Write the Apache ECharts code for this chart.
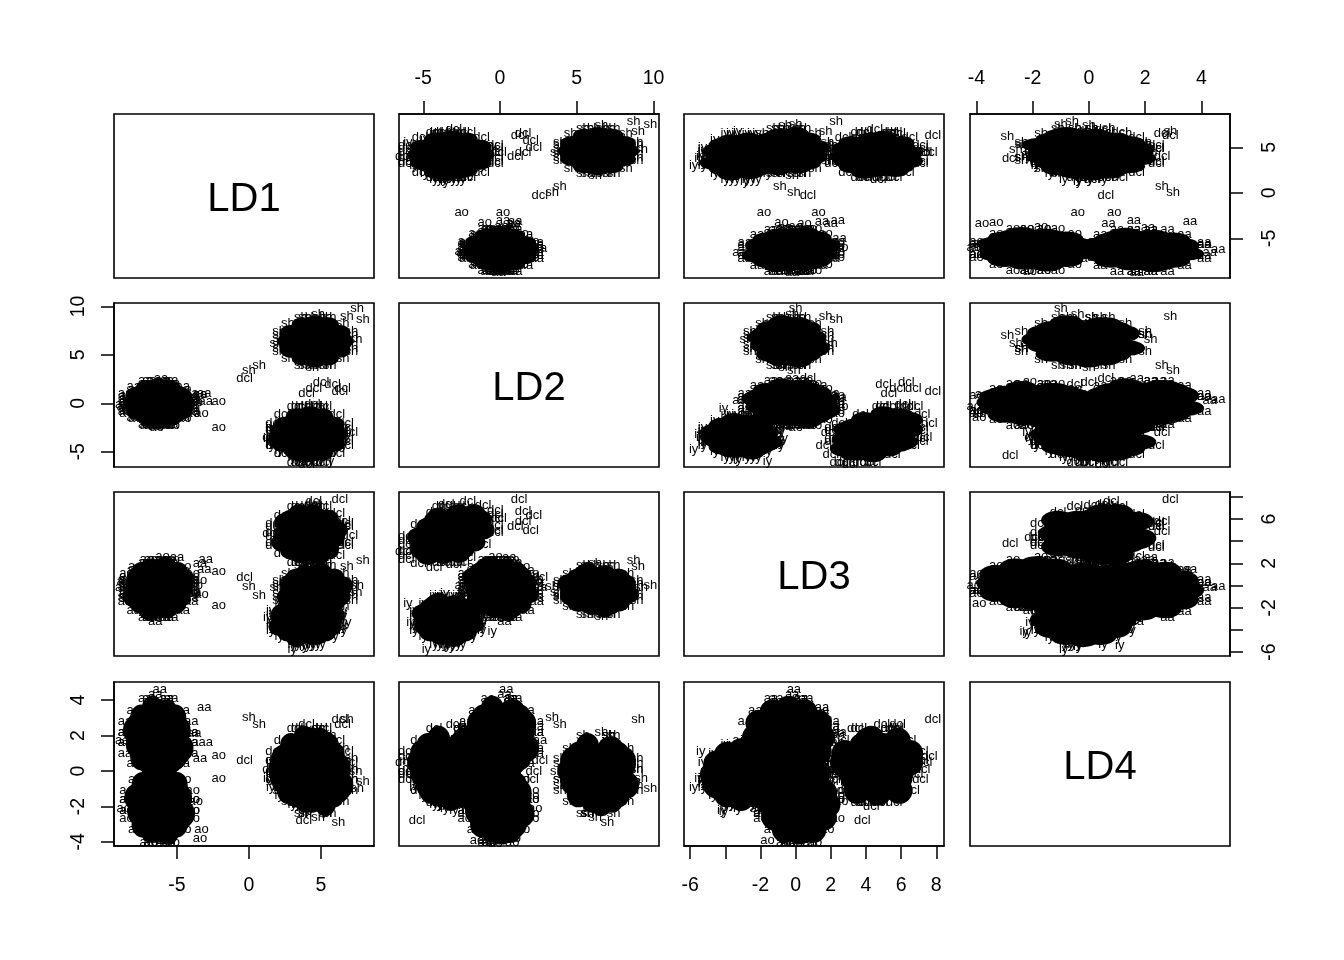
<!DOCTYPE html>
<html><head><meta charset="utf-8">
<style>html,body{margin:0;padding:0;background:#fff}#c{width:1344px;height:960px}</style>
<script src="https://cdn.jsdelivr.net/npm/echarts@6/dist/echarts.min.js"></script>
</head><body><div id="c"></div>
<script>
const varNames = ['LD1','LD2','LD3','LD4'];
const phones = ['aa','ao','dcl','iy','sh'];
const denseCount = 47;

const aaLD1 = [-4.6,-4.8,-5.5,-6.3,-7.1,-7.8,-8.0,-7.8,-7.1,-6.3,-5.5,-4.8,
-5.9,-6.9,-5.7,-6.7,-6.1,-5.7,-6.9,-5.9,-6.9,-5.7,-6.5,-6.1,
-5.1,-5.1,-7.5,-7.5,-5.1,-5.1,-7.5,-7.5,-6.1,-6.5,-6.1,-6.5,-5.9,-6.7,-5.9,-6.7,
-5.4,-7.2,-5.4,-7.2,-6.3,-5.8,-6.5,
-3.8,-8.8,-6.1,-6.5,-6.1,-6.5,-6.5,-6.1,
-4.6,-4.6,-8.0,-8.0,-4.6,-4.6,-8.0,-8.0,-4.6,-4.6,-8.0,-8.0,-6.1,-6.5,-6.1,-6.5,-6.5,-6.1,-6.5,-6.1,-6.1,-6.5,-6.5,-6.1,
-6.2,-6.5,-3.4,-3.0,-5.0,-3.1,
-4.0,-4.0,-8.6,-8.6,-5.4,-5.4,-7.2,-7.2,-4.0,-4.0,-8.6,-8.6,-5.4,-5.4,-7.2,-7.2,-4.0,-4.0,-8.6,-8.6,-5.4,-5.4,-7.2,-7.2,
-6.0,-6.6,-6.6,-6.0,-6.0,-6.6,-6.6,-6.0,-6.9,-5.7,-5.7,-6.9,-5.7,-6.9,-5.7,-6.9,-5.7,-6.9,-6.9,-5.7,-5.7,-6.9,-6.9,-5.7];
const aaLD2 = [.1,.9,1.6,1.8,1.6,.9,.1,-.7,-1.4,-1.6,-1.4,-.7,
-.5,.5,.7,-.5,.9,-.3,.5,.7,-.3,.3,.9,-.7,
.3,-.1,.3,-.1,.5,-.3,.5,-.3,1.3,1.3,-1.1,-1.1,1.3,1.3,-1.1,-1.1,
.8,.8,-.6,-.6,.1,.3,-.3,
.3,-.1,2.6,-2.4,-.1,.3,.3,-.1,
1.7,-1.5,1.7,-1.5,.3,-.1,-.1,.3,-.1,.3,.3,-.1,1.8,1.8,-1.6,-1.6,1.8,1.8,-1.6,-1.6,-.1,.3,-.1,.3,
.4,-.5,.9,.2,.6,1.0,
1.0,-.8,1.0,-.8,2.4,-2.2,2.4,-2.2,.4,-.2,-.2,.4,.4,-.2,-.2,.4,-.5,.7,.7,-.5,.7,-.5,.7,-.5,
2.4,2.4,-2.2,-2.2,1.0,1.0,-.8,-.8,2.4,2.4,-2.2,-2.2,1.0,1.0,-.8,-.8,-.5,.7,.7,-.5,.7,-.5,.7,-.5];
const aaLD3 = [0,-1.1,.3,-.8,-.2,.3,-1.1,0,-1.1,.3,-.6,-.2,
1.5,1.3,.5,-.4,-1.3,-2.1,-2.3,-2.1,-1.3,-.4,.5,1.3,
.9,-1.7,.9,-1.7,-.2,-.6,-.6,-.2,.9,-1.7,.9,-1.7,-.2,-.6,-.6,-.2,
-1.3,.5,.6,-1.4,-.4,-.6,0,
-.6,-.2,-.2,-.6,2.4,-3.2,-.2,-.6,
-.2,-.6,-.6,-.2,1.4,-2.2,1.4,-2.2,-.2,-.6,-.2,-.6,1.4,-2.2,1.4,-2.2,-.2,-.6,-.2,-.6,1.5,1.5,-2.3,-2.3,
-.1,1.3,2.0,2.4,2.5,1.5,
-.1,-.7,-.7,-.1,-.1,-.7,-.7,-.1,.6,-1.4,.6,-1.4,2.1,-2.9,2.1,-2.9,-1.1,.3,.3,-1.1,.3,-1.1,.3,-1.1,
.6,-1.4,.6,-1.4,2.1,-2.9,2.1,-2.9,.3,-1.1,-1.1,.3,.3,-1.1,-1.1,.3,2.1,2.1,-2.9,-2.9,.6,.6,-1.4,-1.4];
const aaLD4 = [1.3,2.3,2.5,1.3,2.7,1.5,2.3,2.5,1.5,2.1,2.7,1.1,
1.9,2.7,3.3,3.5,3.3,2.7,1.9,1.1,.5,.3,.5,1.1,
1.7,2.1,2.1,1.7,3.0,.8,3.0,.8,2.1,1.7,1.7,2.1,3.0,.8,3.0,.8,
2.7,1.1,2.6,1.2,1.9,1.7,2.3,
2.1,1.7,1.7,2.1,2.1,1.7,4.3,-.5,
1.7,2.1,2.1,1.7,1.7,2.1,1.7,2.1,3.4,.4,3.4,.4,1.7,2.1,2.1,1.7,3.4,.4,3.4,.4,3.4,.4,3.4,.4,
4.6,3.3,.7,1.6,2.2,3.6,
1.6,2.2,2.2,1.6,2.2,1.6,2.2,1.6,1.6,2.2,2.2,1.6,2.2,1.6,2.2,1.6,2.8,1.0,2.8,1.0,4.1,-.3,4.1,-.3,
1.3,2.5,2.5,1.3,2.5,1.3,2.5,1.3,2.8,1.0,2.8,1.0,4.1,-.3,4.1,-.3,2.8,1.0,2.8,1.0,4.1,-.3,4.1,-.3];

const aoLD1 = [-4.5,-4.7,-5.4,-6.2,-7.0,-7.7,-7.9,-7.7,-7.0,-6.2,-5.4,-4.7,
-5.8,-6.8,-5.6,-6.6,-6.0,-5.6,-6.8,-5.8,-6.8,-5.6,-6.4,-6.0,
-5.0,-5.0,-7.4,-7.4,-5.0,-5.0,-7.4,-7.4,-6.0,-6.4,-6.0,-6.4,-5.8,-6.6,-5.8,-6.6,
-5.3,-7.1,-5.3,-7.1,-6.2,-5.7,-6.4,
-3.7,-8.7,-6.0,-6.4,-6.0,-6.4,-6.4,-6.0,
-4.5,-4.5,-7.9,-7.9,-4.5,-4.5,-7.9,-7.9,-4.5,-4.5,-7.9,-7.9,-6.0,-6.4,-6.0,-6.4,-6.4,-6.0,-6.4,-6.0,-6.0,-6.4,-6.4,-6.0,
-2.1,-2.1,-3.4,-3.3,-6.0,-5.6,
-3.9,-3.9,-8.5,-8.5,-5.3,-5.3,-7.1,-7.1,-3.9,-3.9,-8.5,-8.5,-5.3,-5.3,-7.1,-7.1,-3.9,-3.9,-8.5,-8.5,-5.3,-5.3,-7.1,-7.1,
-5.9,-6.5,-6.5,-5.9,-5.9,-6.5,-6.5,-5.9,-6.8,-5.6,-5.6,-6.8,-5.6,-6.8,-5.6,-6.8,-5.6,-6.8,-6.8,-5.6,-5.6,-6.8,-6.8,-5.6];
const aoLD2 = [-.1,.7,1.3,1.5,1.3,.7,-.1,-.9,-1.5,-1.7,-1.5,-.9,
-.7,.3,.5,-.7,.7,-.5,.3,.5,-.5,.1,.7,-.9,
.1,-.3,.1,-.3,.3,-.5,.3,-.5,1.0,1.0,-1.2,-1.2,1.0,1.0,-1.2,-1.2,
.6,.6,-.8,-.8,-.1,.1,-.5,
.1,-.3,2.3,-2.5,-.3,.1,.1,-.3,
1.4,-1.6,1.4,-1.6,.1,-.3,-.3,.1,-.3,.1,.1,-.3,1.5,1.5,-1.7,-1.7,1.5,1.5,-1.7,-1.7,-.3,.1,-.3,.1,
.2,-2.5,.9,-1.0,-1.5,-1.0,
.8,-1.0,.8,-1.0,2.1,-2.3,2.1,-2.3,.2,-.4,-.4,.2,.2,-.4,-.4,.2,-.7,.5,.5,-.7,.5,-.7,.5,-.7,
2.1,2.1,-2.3,-2.3,.8,.8,-1.0,-1.0,2.1,2.1,-2.3,-2.3,.8,.8,-1.0,-1.0,-.7,.5,.5,-.7,.5,-.7,.5,-.7];
const aoLD3 = [.6,-.4,.8,-.2,.4,.8,-.4,.6,-.4,.8,0,.4,
1.8,1.6,1.0,.2,-.6,-1.2,-1.4,-1.2,-.6,.2,1.0,1.6,
1.3,-.9,1.3,-.9,.4,0,0,.4,1.3,-.9,1.3,-.9,.4,0,0,.4,
-.6,1.0,1.1,-.7,.2,0,.6,
0,.4,.4,0,2.6,-2.2,.4,0,
.4,0,0,.4,1.7,-1.3,1.7,-1.3,.4,0,.4,0,1.7,-1.3,1.7,-1.3,.4,0,.4,0,1.8,1.8,-1.4,-1.4,
1.3,-1.8,.5,-.8,-1.6,-.4,
.5,-.1,-.1,.5,.5,-.1,-.1,.5,1.1,-.7,1.1,-.7,2.4,-2.0,2.4,-2.0,-.4,.8,.8,-.4,.8,-.4,.8,-.4,
1.1,-.7,1.1,-.7,2.4,-2.0,2.4,-2.0,.8,-.4,-.4,.8,.8,-.4,-.4,.8,2.4,2.4,-2.0,-2.0,1.1,1.1,-.7,-.7];
const aoLD4 = [-2.4,-1.5,-1.4,-2.4,-1.2,-2.3,-1.5,-1.4,-2.3,-1.7,-1.2,-2.6,
-1.9,-1.2,-.5,-.4,-.5,-1.2,-1.9,-2.6,-3.3,-3.4,-3.3,-2.6,
-2.1,-1.7,-1.7,-2.1,-.8,-3.0,-.8,-3.0,-1.7,-2.1,-2.1,-1.7,-.8,-3.0,-.8,-3.0,
-1.2,-2.6,-1.3,-2.5,-1.9,-2.1,-1.5,
-1.7,-2.1,-2.1,-1.7,-1.7,-2.1,.4,-4.1,
-2.1,-1.7,-1.7,-2.1,-2.1,-1.7,-2.1,-1.7,-.5,-3.3,-.5,-3.3,-2.1,-1.7,-1.7,-2.1,-.5,-3.3,-.5,-3.3,-.5,-3.3,-.5,-3.3,
.9,-.4,-3.8,-3.3,-3.9,-3.9,
-2.2,-1.6,-1.6,-2.2,-1.6,-2.2,-1.6,-2.2,-2.2,-1.6,-1.6,-2.2,-1.6,-2.2,-1.6,-2.2,-1.1,-2.7,-1.1,-2.7,.2,-4.0,.2,-4.0,
-2.4,-1.4,-1.4,-2.4,-1.4,-2.4,-1.4,-2.4,-1.1,-2.7,-1.1,-2.7,.2,-4.0,.2,-4.0,-1.1,-2.7,-1.1,-2.7,.2,-4.0,.2,-4.0];

const dclLD1 = [6.1,5.9,5.1,4.2,3.3,2.5,2.3,2.5,3.3,4.2,5.1,5.9,
4.6,3.5,4.9,3.8,4.4,4.9,3.5,4.6,3.5,4.9,4.0,4.4,
5.5,5.5,2.9,2.9,5.5,5.5,2.9,2.9,4.4,4.0,4.4,4.0,4.6,3.8,4.6,3.8,
5.2,3.2,5.2,3.2,4.2,4.8,4.0,
7.0,1.5,4.4,4.0,4.4,4.0,4.0,4.4,
6.1,6.1,2.3,2.3,6.1,6.1,2.3,2.3,6.1,6.1,2.3,2.3,4.4,4.0,4.4,4.0,4.0,4.4,4.0,4.4,4.4,4.0,4.0,4.4,
-.3,6.3,4.5,5.0,5.8,4.0,6.5,3.8,
6.7,6.7,1.7,1.7,5.2,5.2,3.2,3.2,6.7,6.7,1.7,1.7,5.2,5.2,3.2,3.2,6.7,6.7,1.7,1.7,5.2,5.2,3.2,3.2,
4.5,3.9,3.9,4.5,4.5,3.9,3.9,4.5,3.5,4.9,4.9,3.5,4.9,3.5,4.9,3.5,4.9,3.5,3.5,4.9,4.9,3.5,3.5,4.9];
const dclLD2 = [-3.2,-2.2,-1.3,-1.1,-1.3,-2.2,-3.2,-4.2,-5.1,-5.3,-5.1,-4.2,
-4.0,-2.7,-2.4,-4.0,-2.2,-3.7,-2.7,-2.4,-3.7,-3.0,-2.2,-4.2,
-3.0,-3.5,-3.0,-3.5,-2.7,-3.7,-2.7,-3.7,-1.7,-1.7,-4.7,-4.7,-1.7,-1.7,-4.7,-4.7,
-2.3,-2.3,-4.1,-4.1,-3.2,-3.0,-3.7,
-3.0,-3.5,-.1,-6.3,-3.5,-3.0,-3.0,-3.5,
-1.2,-5.2,-1.2,-5.2,-3.0,-3.5,-3.5,-3.0,-3.5,-3.0,-3.0,-3.5,-1.1,-1.1,-5.3,-5.3,-1.1,-1.1,-5.3,-5.3,-3.5,-3.0,-3.5,-3.0,
2.6,1.25,1.5,2.2,2.0,1.0,1.5,-5.4,
-2.1,-4.3,-2.1,-4.3,-.3,-6.1,-.3,-6.1,-2.8,-3.6,-3.6,-2.8,-2.8,-3.6,-3.6,-2.8,-3.9,-2.5,-2.5,-3.9,-2.5,-3.9,-2.5,-3.9,
-.3,-.3,-6.1,-6.1,-2.1,-2.1,-4.3,-4.3,-.3,-.3,-6.1,-6.1,-2.1,-2.1,-4.3,-4.3,-3.9,-2.5,-2.5,-3.9,-2.5,-3.9,-2.5,-3.9];
const dclLD3 = [5.0,4.3,6.0,5.0,5.6,5.7,3.9,4.6,3.2,4.4,3.6,4.4,
6.2,6.5,5.8,4.3,4.1,2.8,2.9,3.3,3.5,4.7,5.9,5.9,
6.0,3.2,6.0,3.2,5.0,4.2,4.6,4.6,6.5,3.9,5.3,2.7,5.4,5.0,3.8,4.2,
4.1,5.8,5.2,3.3,4.6,4.5,4.8,
4.5,4.7,6.1,3.1,7.3,1.9,4.9,4.3,
5.6,3.6,5.2,4.0,6.5,2.7,6.3,2.9,4.7,4.5,4.9,4.3,7.2,3.7,5.5,2.0,5.7,5.2,4.0,3.5,6.4,6.6,2.6,2.8,
.7,7.8,6.7,6.3,5.0,5.3,5.8,3.8,
5.4,3.9,4.8,4.4,6.1,3.1,5.4,3.7,5.6,3.6,5.6,3.6,7.1,2.1,7.1,2.1,3.9,5.3,5.3,3.9,5.3,3.9,5.3,3.9,
6.8,4.8,4.4,2.4,7.6,2.5,6.6,1.6,6.4,5.0,2.7,4.1,5.7,4.3,3.4,4.8,7.1,7.1,2.1,2.1,5.6,5.6,3.6,3.6];
const dclLD4 = [-.2,.7,.8,-.2,1.0,-.1,.7,.8,-.1,.5,1.0,-.4,
.3,1.0,1.7,1.8,1.7,1.0,.3,-.4,-1.1,-1.2,-1.1,-.4,
.1,.5,.5,.1,1.4,-.8,1.4,-.8,.5,.1,.1,.5,1.4,-.8,1.4,-.8,
1.0,-.4,.9,-.3,.3,.1,.7,
.5,.1,.1,.5,.5,.1,2.6,-2.0,
.1,.5,.5,.1,.1,.5,.1,.5,1.7,-1.1,1.7,-1.1,.1,.5,.5,.1,1.7,-1.1,1.7,-1.1,1.7,-1.1,1.7,-1.1,
.6,2.9,.9,0,-.5,1.2,2.6,-2.8,
0,.6,.6,0,.6,0,.6,0,0,.6,.6,0,.6,0,.6,0,1.1,-.5,1.1,-.5,2.4,-1.8,2.4,-1.8,
-.2,.8,.8,-.2,.8,-.2,.8,-.2,1.1,-.5,1.1,-.5,2.4,-1.8,2.4,-1.8,1.1,-.5,1.1,-.5,2.4,-1.8,2.4,-1.8];

const iyLD1 = [5.9,5.7,4.9,4.0,3.1,2.3,2.1,2.3,3.1,4.0,4.9,5.7,
4.4,3.3,4.7,3.6,4.2,4.7,3.3,4.4,3.3,4.7,3.8,4.2,
5.3,5.3,2.7,2.7,5.3,5.3,2.7,2.7,4.2,3.8,4.2,3.8,4.4,3.6,4.4,3.6,
5.0,3.0,5.0,3.0,4.0,4.6,3.8,
6.8,1.3,4.2,3.8,4.2,3.8,3.8,4.2,
5.9,5.9,2.1,2.1,5.9,5.9,2.1,2.1,5.9,5.9,2.1,2.1,4.2,3.8,4.2,3.8,3.8,4.2,3.8,4.2,4.2,3.8,3.8,4.2,
4,4.4,4,3,5.2,5.6,
6.5,6.5,1.5,1.5,5.0,5.0,3.0,3.0,6.5,6.5,1.5,1.5,5.0,5.0,3.0,3.0,6.5,6.5,1.5,1.5,5.0,5.0,3.0,3.0,
4.3,3.7,3.7,4.3,4.3,3.7,3.7,4.3,3.3,4.7,4.7,3.3,4.7,3.3,4.7,3.3,4.7,3.3,3.3,4.7,4.7,3.3,3.3,4.7];
const iyLD2 = [-3.4,-2.6,-2.0,-1.8,-2.0,-2.6,-3.4,-4.2,-4.8,-5.0,-4.8,-4.2,
-4.0,-3.0,-2.8,-4.0,-2.6,-3.8,-3.0,-2.8,-3.8,-3.2,-2.6,-4.2,
-3.2,-3.6,-3.2,-3.6,-3.0,-3.8,-3.0,-3.8,-2.3,-2.3,-4.5,-4.5,-2.3,-2.3,-4.5,-4.5,
-2.7,-2.7,-4.1,-4.1,-3.4,-3.2,-3.8,
-3.2,-3.6,-1.0,-5.8,-3.6,-3.2,-3.2,-3.6,
-1.9,-4.9,-1.9,-4.9,-3.2,-3.6,-3.6,-3.2,-3.6,-3.2,-3.2,-3.6,-1.8,-1.8,-5.0,-5.0,-1.8,-1.8,-5.0,-5.0,-3.6,-3.2,-3.6,-3.2,
-3.5,-3.6,-3,-4.8,-.5,-6,
-2.5,-4.3,-2.5,-4.3,-1.2,-5.6,-1.2,-5.6,-3.1,-3.7,-3.7,-3.1,-3.1,-3.7,-3.7,-3.1,-4.0,-2.8,-2.8,-4.0,-2.8,-4.0,-2.8,-4.0,
-1.2,-1.2,-5.6,-5.6,-2.5,-2.5,-4.3,-4.3,-1.2,-1.2,-5.6,-5.6,-2.5,-2.5,-4.3,-4.3,-4.0,-2.8,-2.8,-4.0,-2.8,-4.0,-2.8,-4.0];
const iyLD3 = [-2.7,-3.7,-2.5,-3.5,-2.9,-2.5,-3.7,-2.7,-3.7,-2.5,-3.3,-2.9,
-1.5,-1.7,-2.3,-3.1,-3.9,-4.5,-4.7,-4.5,-3.9,-3.1,-2.3,-1.7,
-2.0,-4.2,-2.0,-4.2,-2.9,-3.3,-3.3,-2.9,-2.0,-4.2,-2.0,-4.2,-2.9,-3.3,-3.3,-2.9,
-3.9,-2.3,-2.2,-4.0,-3.1,-3.3,-2.7,
-3.3,-2.9,-2.9,-3.3,-.7,-5.5,-2.9,-3.3,
-2.9,-3.3,-3.3,-2.9,-1.6,-4.6,-1.6,-4.6,-2.9,-3.3,-2.9,-3.3,-1.6,-4.6,-1.6,-4.6,-2.9,-3.3,-2.9,-3.3,-1.5,-1.5,-4.7,-4.7,
-5.4,-5.3,-4.2,-5.8,-4.1,-1.6,
-2.8,-3.4,-3.4,-2.8,-2.8,-3.4,-3.4,-2.8,-2.2,-4.0,-2.2,-4.0,-.9,-5.3,-.9,-5.3,-3.7,-2.5,-2.5,-3.7,-2.5,-3.7,-2.5,-3.7,
-2.2,-4.0,-2.2,-4.0,-.9,-5.3,-.9,-5.3,-2.5,-3.7,-3.7,-2.5,-2.5,-3.7,-3.7,-2.5,-.9,-.9,-5.3,-5.3,-2.2,-2.2,-4.0,-4.0];
const iyLD4 = [-.7,.1,.3,-.7,.4,-.5,.1,.3,-.5,-.1,.4,-.8,
-.2,.4,.9,1.1,.9,.4,-.2,-.8,-1.3,-1.5,-1.3,-.8,
-.4,-.1,-.1,-.4,.7,-1.1,.7,-1.1,-.1,-.4,-.4,-.1,.7,-1.1,.7,-1.1,
.4,-.8,.3,-.7,-.2,-.4,.1,
-.1,-.4,-.4,-.1,-.1,-.4,1.7,-2.1,
-.4,-.1,-.1,-.4,-.4,-.1,-.4,-.1,1.0,-1.4,1.0,-1.4,-.4,-.1,-.1,-.4,1.0,-1.4,1.0,-1.4,1.0,-1.4,1.0,-1.4,
1.1,-.6,-2.2,-.9,-2.3,.6,
-.4,0,0,-.4,0,-.4,0,-.4,-.4,0,0,-.4,0,-.4,0,-.4,.5,-.9,.5,-.9,1.5,-1.9,1.5,-1.9,
-.7,.3,.3,-.7,.3,-.7,.3,-.7,.5,-.9,.5,-.9,1.5,-1.9,1.5,-1.9,.5,-.9,.5,-.9,1.5,-1.9,1.5,-1.9];

const shLD1 = [6.5,6.3,5.5,4.6,3.7,2.9,2.7,2.9,3.7,4.6,5.5,6.3,
5.0,3.9,5.3,4.2,4.8,5.3,3.9,5.0,3.9,5.3,4.4,4.8,
5.9,5.9,3.3,3.3,5.9,5.9,3.3,3.3,4.8,4.4,4.8,4.4,5.0,4.2,5.0,4.2,
5.6,3.6,5.6,3.6,4.6,5.2,4.4,
7.4,1.9,4.8,4.4,4.8,4.4,4.4,4.8,
6.5,6.5,2.7,2.7,6.5,6.5,2.7,2.7,6.5,6.5,2.7,2.7,4.8,4.4,4.8,4.4,4.4,4.8,4.4,4.8,4.8,4.4,4.4,4.8,
0,7.9,6.2,.7,7.5,6.8,
7.1,7.1,2.1,2.1,5.6,5.6,3.6,3.6,7.1,7.1,2.1,2.1,5.6,5.6,3.6,3.6,7.1,7.1,2.1,2.1,5.6,5.6,3.6,3.6,
4.9,4.3,4.3,4.9,4.9,4.3,4.3,4.9,3.9,5.3,5.3,3.9,5.3,3.9,5.3,3.9,5.3,3.9,3.9,5.3,5.3,3.9,3.9,5.3];
const shLD2 = [6.4,7.3,8.1,8.3,8.1,7.3,6.4,5.5,4.7,4.5,4.7,5.5,
5.7,6.8,7.1,5.7,7.3,6.0,6.8,7.1,6.0,6.6,7.3,5.5,
6.6,6.2,6.6,6.2,6.8,6.0,6.8,6.0,7.7,7.7,5.1,5.1,7.7,7.7,5.1,5.1,
7.2,7.2,5.6,5.6,6.4,6.6,6.0,
6.6,6.2,9.2,3.7,6.2,6.6,6.6,6.2,
8.2,4.6,8.2,4.6,6.6,6.2,6.2,6.6,6.2,6.6,6.6,6.2,8.3,8.3,4.5,4.5,8.3,8.3,4.5,4.5,6.2,6.6,6.2,6.6,
3.4,8.7,7.0,3.9,9.8,9.0,
7.4,5.4,7.4,5.4,8.9,3.9,8.9,3.9,6.7,6.1,6.1,6.7,6.7,6.1,6.1,6.7,5.7,7.1,7.1,5.7,7.1,5.7,7.1,5.7,
8.9,8.9,3.9,3.9,7.4,7.4,5.4,5.4,8.9,8.9,3.9,3.9,7.4,7.4,5.4,5.4,5.7,7.1,7.1,5.7,7.1,5.7,7.1,5.7];
const shLD3 = [0,-1.0,.2,-.8,-.2,.2,-1.0,0,-1.0,.2,-.6,-.2,
1.2,1.0,.4,-.4,-1.2,-1.8,-2.0,-1.8,-1.2,-.4,.4,1.0,
.7,-1.5,.7,-1.5,-.2,-.6,-.6,-.2,.7,-1.5,.7,-1.5,-.2,-.6,-.6,-.2,
-1.2,.4,.5,-1.3,-.4,-.6,0,
-.6,-.2,-.2,-.6,2.0,-2.8,-.2,-.6,
-.2,-.6,-.6,-.2,1.1,-1.9,1.1,-1.9,-.2,-.6,-.2,-.6,1.1,-1.9,1.1,-1.9,-.2,-.6,-.2,-.6,1.2,1.2,-2.0,-2.0,
-.1,2.3,.6,-.9,0,1.7,
-.1,-.7,-.7,-.1,-.1,-.7,-.7,-.1,.5,-1.3,.5,-1.3,1.8,-2.6,1.8,-2.6,-1.0,.2,.2,-1.0,.2,-1.0,.2,-1.0,
.5,-1.3,.5,-1.3,1.8,-2.6,1.8,-2.6,.2,-1.0,-1.0,.2,.2,-1.0,-1.0,.2,1.8,1.8,-2.6,-2.6,.5,.5,-1.3,-1.3];
const shLD4 = [-.8,.2,.4,-.8,.6,-.6,.2,.4,-.6,0,.6,-1.0,
-.2,.6,1.2,1.4,1.2,.6,-.2,-1.0,-1.6,-1.8,-1.6,-1.0,
-.4,0,0,-.4,.9,-1.3,.9,-1.3,0,-.4,-.4,0,.9,-1.3,.9,-1.3,
.6,-1.0,.5,-.9,-.2,-.4,.2,
0,-.4,-.4,0,0,-.4,2.2,-2.6,
-.4,0,0,-.4,-.4,0,-.4,0,1.3,-1.7,1.3,-1.7,-.4,0,0,-.4,1.3,-1.7,1.3,-1.7,1.3,-1.7,1.3,-1.7,
3.0,-.6,-2.9,2.6,-1.0,2.9,
-.5,.1,.1,-.5,.1,-.5,.1,-.5,-.5,.1,.1,-.5,.1,-.5,.1,-.5,.7,-1.1,.7,-1.1,2.0,-2.4,2.0,-2.4,
-.8,.4,.4,-.8,.4,-.8,.4,-.8,.7,-1.1,.7,-1.1,2.0,-2.4,2.0,-2.4,.7,-1.1,.7,-1.1,2.0,-2.4,2.0,-2.4];

const cols = {
  aa:[aaLD1,aaLD2,aaLD3,aaLD4], ao:[aoLD1,aoLD2,aoLD3,aoLD4],
  dcl:[dclLD1,dclLD2,dclLD3,dclLD4], iy:[iyLD1,iyLD2,iyLD3,iyLD4], sh:[shLD1,shLD2,shLD3,shLD4]
};

const ranges = [[-9.37,8.68],[-6.58,10.36],[-6.35,8.44],[-4.23,5.02]];
const ticksLD1 = [-5,0,5], ticksLD2 = [-5,0,5,10];
const ticksLD3 = [-6,-4,-2,0,2,4,6,8], ticksLD4 = [-4,-2,0,2,4];
const labelsLD3Bottom = [-6,-2,0,2,4,6,8], labelsLD3Right = [-6,-2,2,6];

const lefts = [114,399,684,970], tops = [114,303,492,682];
const panelW = 260, panelH = 164;
const blobWide = [1.5,1.5,1.5,1.2], blobTall = [1.5,1.6,1.7,1.5];
const font = '"Liberation Sans", Arial, sans-serif';

const xSpec = {'3,0':{pos:'bottom',t:ticksLD1,l:ticksLD1,m:30},'0,1':{pos:'top',t:ticksLD2,l:ticksLD2,m:25},
               '3,2':{pos:'bottom',t:ticksLD3,l:labelsLD3Bottom,m:30},'0,3':{pos:'top',t:ticksLD4,l:ticksLD4,m:25}};
const ySpec = {'1,0':{pos:'left',t:ticksLD2,l:ticksLD2,m:25},'3,0':{pos:'left',t:ticksLD4,l:ticksLD4,m:25},
               '0,3':{pos:'right',t:ticksLD1,l:ticksLD1,m:30},'2,3':{pos:'right',t:ticksLD3,l:labelsLD3Right,m:30}};

const grid=[],xAxis=[],yAxis=[],series=[],graphic=[];
function axis(range,spec,kind){
  const a={type:'value',min:range[0],max:range[1],splitLine:{show:false},show:!!spec};
  if(spec){
    a.position=spec.pos;
    a.axisLine={show:true,onZero:false,lineStyle:{color:'#000',width:1.5}};
    a.axisTick={show:true,length:13,inside:false,lineStyle:{color:'#000',width:1.5},customValues:spec.t};
    a.axisLabel={show:true,color:'#000',fontSize:19.5,fontFamily:font,customValues:spec.l,
      showMinLabel:true,showMaxLabel:true,hideOverlap:false,margin:spec.m,
      rotate:kind==='y'?90:0,formatter:v=>String(v)};
  }
  return a;
}
for(let r=0;r<4;r++)for(let c=0;c<4;c++){
  const i=r*4+c;
  grid.push({left:lefts[c],top:tops[r],width:panelW,height:panelH,show:true,borderColor:'#000',borderWidth:1.6,containLabel:false,backgroundColor:'transparent'});
  xAxis.push(Object.assign({gridIndex:i},axis(ranges[c],xSpec[r+','+c],'x')));
  yAxis.push(Object.assign({gridIndex:i},axis(ranges[r],ySpec[r+','+c],'y')));
  if(r===c){
    graphic.push({type:'text',x:lefts[c]+panelW/2,y:tops[r]+panelH/2+4,silent:true,
      style:{text:varNames[r],fontSize:40,fontFamily:font,fill:'#000',textAlign:'center',textVerticalAlign:'middle'}});
    continue;
  }
  const sizeX=blobWide[c]*panelW/(ranges[c][1]-ranges[c][0]);
  const sizeY=blobTall[r]*panelH/(ranges[r][1]-ranges[r][0]);
  const data=[];
  phones.forEach(p=>{
    const xs=cols[p][c],ys=cols[p][r];
    xs.forEach((x,k)=>data.push({value:[x,ys[k]],name:p,symbolSize:k<denseCount?[sizeX,sizeY]:0}));
  });
  series.push({type:'scatter',xAxisIndex:i,yAxisIndex:i,data,symbol:'circle',silent:true,animation:false,large:false,
    itemStyle:{color:'#000',opacity:1},
    label:{show:true,position:'inside',formatter:'{b}',fontSize:13,fontFamily:font,color:'#000'},
    emphasis:{disabled:true}});
}
const chart=echarts.init(document.getElementById('c'),null,{renderer:'canvas'});
chart.setOption({backgroundColor:'#fff',animation:false,grid,xAxis,yAxis,series,graphic,tooltip:{show:false}});
</script></body></html>
